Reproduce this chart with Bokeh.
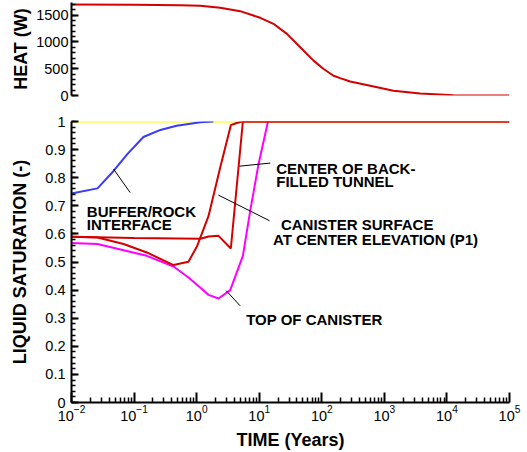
from bokeh.plotting import figure
from bokeh.layouts import column
from bokeh.models import Range1d, FixedTicker, Label, CustomJSTickFormatter
from bokeh.embed import file_html
from bokeh.resources import INLINE

# ---- heat output of the canister ----
heat_time = [0.01, 0.1, 0.546, 1.14, 2.38, 4.97, 10.4, 16.9, 27.7, 45.2, 73.8,
             107.0, 154.0, 197.0, 284.0, 594.0, 1400.0, 3740.0, 12700.0,
             43600.0, 1e5]
heat_watts = [1700, 1697, 1685, 1676, 1638, 1575, 1451, 1339, 1151, 900, 651,
              495, 369, 325, 262, 182, 88, 37, 7, 0, 0]

# ---- liquid saturation histories ----
rock_time = [0.01, 1e5]
rock_sat = [1.0, 1.0]

buffer_time = [0.01, 0.026, 0.047, 0.078, 0.141, 0.263, 0.479, 1.15, 1.86]
buffer_sat = [0.744, 0.762, 0.824, 0.884, 0.945, 0.970, 0.985, 0.997, 1.0]

tunnel_time = [0.01, 0.026, 0.1, 1.15, 1.55, 2.24, 3.52, 5.48, 1e5]
tunnel_sat = [0.590, 0.588, 0.585, 0.583, 0.591, 0.593, 0.548, 1.0, 1.0]

surface_time = [0.01, 0.026, 0.068, 0.16, 0.427, 0.74, 1.01, 1.55, 2.38, 3.52,
                4.13, 5.25, 1e5]
surface_sat = [0.590, 0.587, 0.564, 0.534, 0.489, 0.501, 0.555, 0.664, 0.836,
               0.987, 0.993, 1.0, 1.0]

top_time = [0.01, 0.026, 0.068, 0.16, 0.427, 0.74, 1.14, 1.55, 2.24, 3.44,
            5.48, 7.18, 9.75, 13.8]
top_sat = [0.568, 0.564, 0.542, 0.522, 0.484, 0.445, 0.409, 0.383, 0.370,
           0.400, 0.522, 0.682, 0.848, 1.0]

decades = [10.0 ** k for k in range(-2, 6)]
sat_ticks = [round(0.1 * i, 1) for i in range(11)]
heat_ticks = [0, 500, 1000, 1500]

RED = "#d40000"
BLUE = "#3a3aff"
MAGENTA = "#ff00ff"
YELLOW = "#ffff00"
FONT = "Liberation Sans"

x_range = Range1d(0.01, 1e5)


def style_axis(ax):
    ax.axis_line_width = 2
    ax.axis_line_color = "black"
    ax.major_tick_line_width = 2
    ax.major_tick_line_color = "black"
    ax.minor_tick_line_width = 1.5
    ax.minor_tick_line_color = "black"
    ax.major_tick_out = 0
    ax.minor_tick_out = 0
    ax.major_label_text_font = FONT
    ax.major_label_text_font_size = "14.5px"
    ax.major_label_text_color = "black"
    ax.axis_label_text_font = FONT
    ax.axis_label_text_font_style = "bold"
    ax.axis_label_text_font_size = "18px"
    ax.axis_label_text_color = "black"


# ---- upper panel: heat ----
p1 = figure(width=527, height=110, x_axis_type="log", x_axis_location=None,
            x_range=x_range, y_range=Range1d(0, 1737),
            output_backend="svg", toolbar_location=None,
            min_border_left=71, min_border_right=18,
            min_border_top=2, min_border_bottom=15)
p1.outline_line_color = None
p1.grid.visible = False
p1.line(heat_time, heat_watts, line_color=RED, line_width=2)
ya = p1.yaxis[0]
ya.ticker = FixedTicker(ticks=heat_ticks, minor_ticks=list(range(0, 1800, 100)))
ya.axis_label = "HEAT (W)"
style_axis(ya)
ya.major_tick_in = 7
ya.minor_tick_in = 4
ya.major_label_standoff = 3
ya.axis_label_standoff = 2

# ---- lower panel: liquid saturation ----
p2 = figure(width=527, height=342, x_axis_type="log",
            x_range=x_range, y_range=Range1d(0, 1),
            output_backend="svg", toolbar_location=None,
            min_border_left=71, min_border_right=18,
            min_border_top=11, min_border_bottom=50)
p2.outline_line_color = None
p2.grid.visible = False

p2.line(rock_time, rock_sat, line_color=YELLOW, line_width=2)
p2.line(buffer_time, buffer_sat, line_color=BLUE, line_width=2)
p2.line(top_time, top_sat, line_color=MAGENTA, line_width=2)
p2.line(surface_time, surface_sat, line_color=RED, line_width=2)
p2.line(tunnel_time, tunnel_sat, line_color=RED, line_width=2)

xa = p2.xaxis[0]
minor_x = [m * d for d in decades[:-1] for m in range(2, 10)]
xa.ticker = FixedTicker(ticks=decades, minor_ticks=minor_x)
xa.axis_label = "TIME (Years)"
style_axis(xa)
xa.major_tick_in = 10
xa.minor_tick_in = 5
xa.major_label_standoff = 2
xa.axis_label_standoff = 6

ya2 = p2.yaxis[0]
ya2.ticker = FixedTicker(ticks=sat_ticks,
                         minor_ticks=[round(0.02 * i, 2) for i in range(51)])
ya2.formatter = CustomJSTickFormatter(code="return String(Math.round(tick * 10) / 10)")
ya2.axis_label = "LIQUID SATURATION (-)"
style_axis(ya2)
ya2.major_tick_in = 7
ya2.minor_tick_in = 4
ya2.major_label_standoff = 6
ya2.axis_label_standoff = 12

# ---- curve labels and leader lines ----
leader_x0 = [0.0867, 15.0, 14.6, 4.97]
leader_y0 = [0.747, 0.852, 0.647, 0.344]
leader_x1 = [0.0469, 4.84, 2.23, 2.96]
leader_y1 = [0.831, 0.841, 0.738, 0.398]
p2.segment(leader_x0, leader_y0, leader_x1, leader_y1,
           line_color="black", line_width=1)

notes = [
    ("BUFFER/ROCK", 0.0176, 0.679),
    ("INTERFACE", 0.0176, 0.632),
    ("CENTER OF BACK-", 18.7, 0.834),
    ("FILLED TUNNEL", 18.7, 0.785),
    ("CANISTER SURFACE", 22.2, 0.632),
    ("AT CENTER ELEVATION (P1)", 16.6, 0.579),
    ("TOP OF CANISTER", 6.19, 0.294),
]
for txt, tx, ty in notes:
    p2.add_layout(Label(x=tx, y=ty, text=txt, text_font=FONT,
                        text_font_style="bold", text_font_size="15px",
                        text_color="black", text_align="left",
                        text_baseline="alphabetic"))

layout = column(p1, p2, spacing=0)
open("out.html", "w").write(file_html(layout, INLINE))
